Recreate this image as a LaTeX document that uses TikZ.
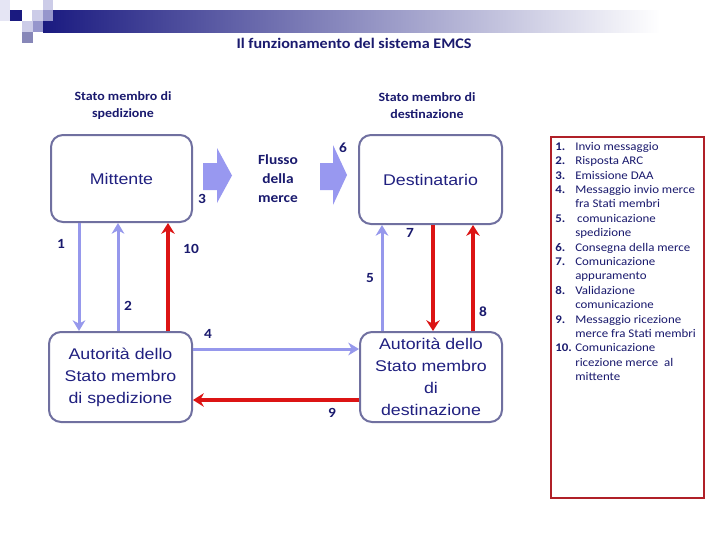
\documentclass[tikz,border=0pt]{standalone}
\usepackage{fontspec}
\setmainfont{Carlito}[FakeStretch=1.1]
\newfontfamily\arialf{Liberation Sans}[FakeStretch=1.15]
\usetikzlibrary{arrows.meta}
\definecolor{navy}{RGB}{26,26,110}
\definecolor{boxtxt}{RGB}{32,32,128}
\definecolor{boxline}{RGB}{112,112,160}
\definecolor{lblue}{RGB}{150,152,236}
\definecolor{bfill}{RGB}{152,152,240}
\definecolor{dred}{RGB}{220,20,20}
\definecolor{legred}{RGB}{176,32,40}
\definecolor{sqdark}{RGB}{26,26,128}
\definecolor{sqlight}{RGB}{204,204,232}
\definecolor{sqmed}{RGB}{150,150,204}
\begin{document}
\begin{tikzpicture}[x=0.75pt,y=-0.75pt,
  box/.style={draw=boxline, line width=1.5pt, rounded corners=9pt, fill=white, align=center,
    font=\arialf\fontsize{11.6}{16.5}\selectfont, text=boxtxt, inner sep=0pt},
  num/.style={font=\bfseries\fontsize{10.5}{12}\selectfont, text=navy, inner sep=0pt},
  hdr/.style={font=\bfseries\fontsize{9.5}{12.75}\selectfont, text=navy, align=center, inner sep=0pt},
  barrow/.style={-{Stealth[length=8pt,width=9.5pt,inset=2.5pt]}, line width=2.25pt, draw=lblue},
  rarrow/.style={-{Stealth[length=8pt,width=10pt,inset=2.5pt]}, line width=3pt, draw=dred},
  blockarrow/.style={fill=bfill},
]
\useasboundingbox (0,0) rectangle (720,540);
\fill[white] (0,0) rectangle (720,540);

% header decoration
\shade[left color=sqdark, right color=white] (43,10) rectangle (660,32);
\fill[sqlight!50] (0,0) rectangle (10,21);
\fill[sqdark] (10,10) rectangle (22,21);
\fill[sqlight] (32,10) rectangle (43,21);
\fill[sqlight] (43,0) rectangle (53,10);
\fill[sqmed] (43,10) rectangle (53,21);
\fill[sqlight] (22,21) rectangle (33,32);
\fill[sqmed] (33,21) rectangle (43,32);
\fill[sqmed!90!black] (22,32) rectangle (33,43);

% title and headers
\node[font=\bfseries\fontsize{11}{12}\selectfont, text=navy, inner sep=0pt] (title) at (354,43) {Il funzionamento del sistema EMCS};
\node[hdr] (hdrA) at (123,105.5) {Stato membro di\\spedizione};
\node[hdr] (hdrB) at (427,105.5) {Stato membro di\\destinazione};

% boxes
\node[box, minimum width=105.75pt, minimum height=65.25pt] (mitt) at (121.5,178.5) {Mittente};
\node[box, minimum width=107.25pt, minimum height=66.75pt] (dest) at (430.5,179.5) {Destinatario};
\node[box, minimum width=107.25pt, minimum height=67.5pt] (aut1) at (120.5,377) {Autorità dello\\Stato membro\\di spedizione};
\node[box, minimum width=106.5pt, minimum height=67.5pt] (aut2) at (431,377) {Autorità dello\\Stato membro\\di\\destinazione};

% block arrows (flow of goods)
\fill[blockarrow] (203,163) -- (217,163) -- (217,148) -- (232,175.5) -- (217,203) -- (217,190) -- (203,190) -- cycle;
\fill[blockarrow] (320,163) -- (333,163) -- (333,145) -- (347,175) -- (333,205) -- (333,190) -- (320,190) -- cycle;
\node[font=\bfseries\fontsize{10.5}{14.25}\selectfont, text=navy, align=center, inner sep=0pt] (flow) at (278,179) {Flusso\\della\\merce};

% connector x positions
\coordinate (x1) at (79,0);
\coordinate (x2) at (118,0);
\coordinate (x10) at (168,0);
\coordinate (x5) at (382,0);
\coordinate (x7) at (433,0);
\coordinate (x8) at (473,0);
\coordinate (y4) at (0,349);
\coordinate (y9) at (0,400);

\draw[barrow] (mitt.south -| x1) -- (aut1.north -| x1);
\draw[barrow] (aut1.north -| x2) -- (mitt.south -| x2);
\draw[rarrow] (aut1.north -| x10) -- (mitt.south -| x10);
\draw[barrow] (aut2.north -| x5) -- (dest.south -| x5);
\draw[rarrow] (dest.south -| x7) -- (aut2.north -| x7);
\draw[rarrow] (aut2.north -| x8) -- (dest.south -| x8);
\draw[barrow] (aut1.east |- y4) -- (aut2.west |- y4);
\draw[rarrow] (aut2.west |- y9) -- (aut1.east |- y9);

% number labels
\node[num] (n1) at (61,244) {1};
\node[num] (n2) at (128,306) {2};
\node[num] (n3) at (202,199) {3};
\node[num] (n4) at (208,334) {4};
\node[num] (n5) at (370,278) {5};
\node[num] (n6) at (343,148) {6};
\node[num] (n7) at (410,233) {7};
\node[num] (n8) at (483,312) {8};
\node[num] (n9) at (332,413) {9};
\node[num] (n10) at (191,249) {10};

% legend
\node[draw=legred, line width=0.9pt, minimum width=114.75pt, minimum height=270.75pt, inner sep=0pt] (legbox) at (627.5,317.5) {};
\node[anchor=north west, inner sep=0pt, text=navy, font=\fontsize{8.8}{10.8}\selectfont] (legend) at (555,140) {%
\begin{tabular}{@{}p{15pt}@{}l@{}}
\textbf{1.} & Invio messaggio\\
\textbf{2.} & Risposta ARC\\
\textbf{3.} & Emissione DAA\\
\textbf{4.} & Messaggio invio merce\\
 & fra Stati membri\\
\textbf{5.} & \,comunicazione\\
 & spedizione\\
\textbf{6.} & Consegna della merce\\
\textbf{7.} & Comunicazione\\
 & appuramento\\
\textbf{8.} & Validazione\\
 & comunicazione\\
\textbf{9.} & Messaggio ricezione\\
 & merce fra Stati membri\\
\textbf{10.} & Comunicazione\\
 & ricezione merce\ \ al\\
 & mittente
\end{tabular}};
\end{tikzpicture}
\end{document}
